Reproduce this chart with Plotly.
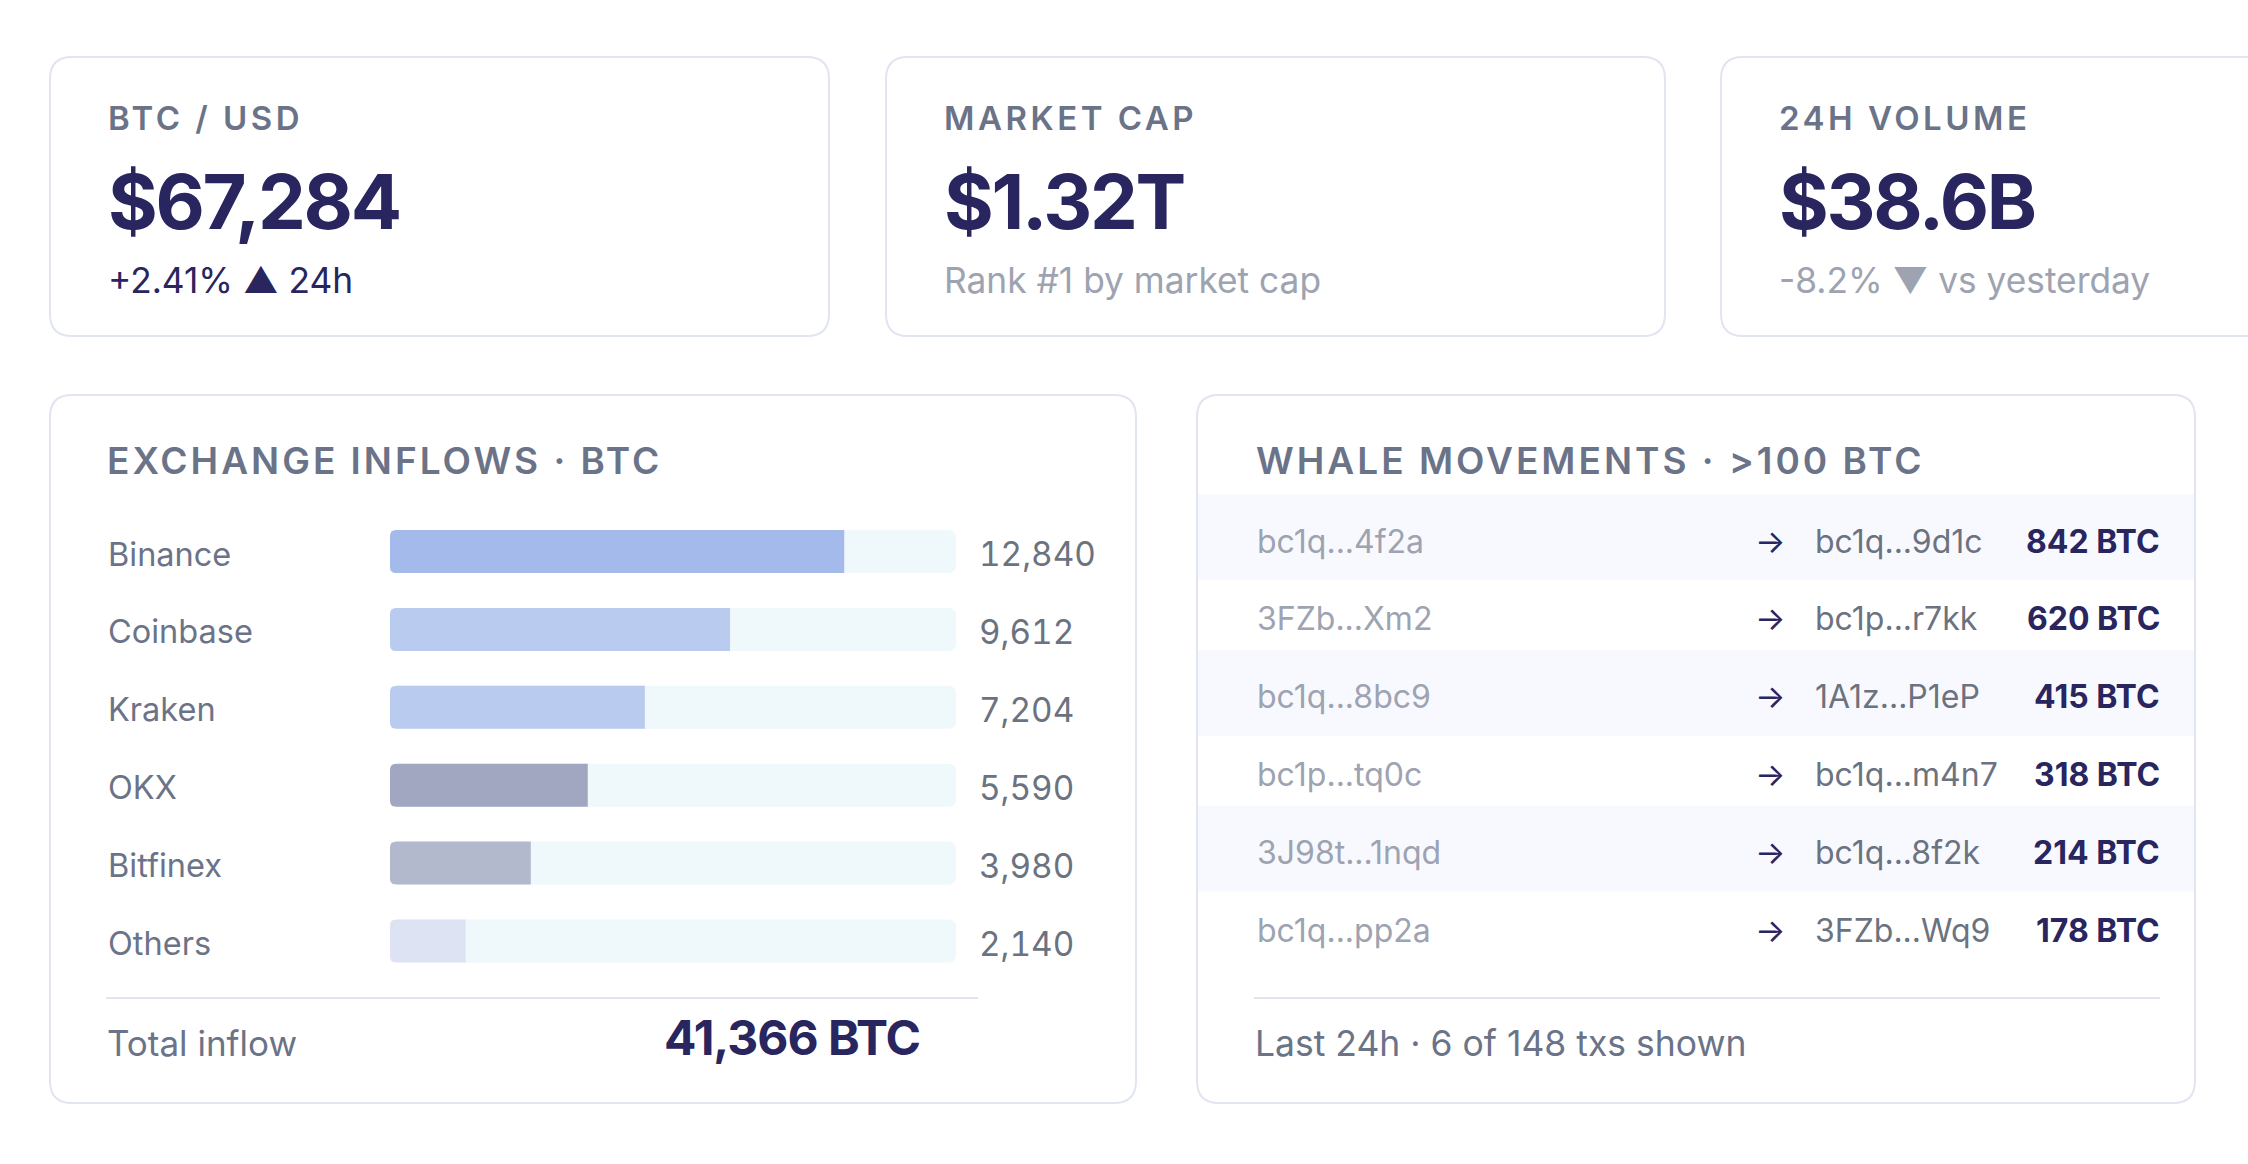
import plotly.graph_objects as go

W, H = 2248, 1164

# ---------------- data ----------------
kpi_labels = ["BTC / USD", "MARKET CAP", "24H VOLUME"]
kpi_values = ["$67,284", "$1.32T", "$38.6B"]
kpi_notes = ["+2.41% ▲ 24h", "Rank #1 by market cap", "-8.2% ▼ vs yesterday"]

exchanges = ["Binance", "Coinbase", "Kraken", "OKX", "Bitfinex", "Others"]
inflows_btc = [12840, 9612, 7204, 5590, 3980, 2140]
inflow_scale_max = 16000

whale_from = ["bc1q...4f2a", "3FZb...Xm2", "bc1q...8bc9", "bc1p...tq0c", "3J98t...1nqd", "bc1q...pp2a"]
whale_to = ["bc1q...9d1c", "bc1p...r7kk", "1A1z...P1eP", "bc1q...m4n7", "bc1q...8f2k", "3FZb...Wq9"]
whale_btc = [842, 620, 415, 318, 214, 178]
whale_total_txs = 148

# ---------------- styles ----------------
NAVY = "#28255f"
SLATE = "#6b7388"
GRAY = "#6b7280"
LIGHT = "#9da3b1"
BORDER = "#e1e5f2"
TRACK = "#eff8fb"
STRIPE = "#f8f9fe"
DIVIDER = "#e0e5f0"
FONT = "Inter, 'Noto Sans', sans-serif"
bar_colors = ["#a3baea", "#b9cbee", "#b9cbee", "#a1a6c1", "#b3b9cd", "#dee3f3"]
note_colors = [NAVY, LIGHT, LIGHT]


def px(x):
    return x / W


def py(y):
    return 1 - y / H


shapes = []
annotations = []


def rrect(x0, y0, x1, y1, r, line=BORDER, fill="white", width=2):
    X0, X1, Y0, Y1 = px(x0), px(x1), py(y0), py(y1)
    rx, ry = r / W, r / H
    path = (f"M {X0+rx},{Y0} L {X1-rx},{Y0} Q {X1},{Y0} {X1},{Y0-ry} "
            f"L {X1},{Y1+ry} Q {X1},{Y1} {X1-rx},{Y1} L {X0+rx},{Y1} "
            f"Q {X0},{Y1} {X0},{Y1+ry} L {X0},{Y0-ry} Q {X0},{Y0} {X0+rx},{Y0} Z")
    shapes.append(dict(type="path", path=path, xref="paper", yref="paper",
                       line=dict(color=line, width=width), fillcolor=fill, layer="below"))


def hline(x0, x1, y, color=DIVIDER, width=2):
    shapes.append(dict(type="line", xref="paper", yref="paper", x0=px(x0), x1=px(x1),
                       y0=py(y), y1=py(y), line=dict(color=color, width=width), layer="below"))


def txt(s, x, y, size, color, weight=400, xanchor="left", yref="paper", ls=None,
        tnum=False, yshift=0):
    styles = []
    if ls is not None:
        styles.append(f"letter-spacing:{ls}px")
    if tnum:
        styles.append("font-variant-numeric:tabular-nums")
    if styles:
        s = f"<span style='{';'.join(styles)}'>{s}</span>"
    annotations.append(dict(
        text=s, x=px(x), xref="paper", y=py(y) if yref == "paper" else y, yref=yref,
        xanchor=xanchor, yanchor="middle", showarrow=False, borderpad=0, yshift=yshift,
        font=dict(family=FONT, size=size, color=color, weight=weight)))


# ---------------- KPI cards ----------------
card_w = 779
for i, left in enumerate([50, 886, 1721]):
    rrect(left, 57, left + card_w, 336, 22)
    tx = left + 57
    txt(kpi_labels[i], tx, 118, 33, SLATE, 600, ls=3.5)
    txt(kpi_values[i], tx, 201, 76, NAVY, 700, ls=-2.3)
    txt(kpi_notes[i], tx, 280, 35.3, note_colors[i], 400)

# ---------------- panels ----------------
rrect(50, 395, 1136, 1103, 22)
rrect(1197, 395, 2195, 1103, 22)

txt("EXCHANGE INFLOWS · BTC", 106, 460.5, 37, SLATE, 600, ls=3)
txt("WHALE MOVEMENTS · >100 BTC", 1255, 460.5, 37, SLATE, 600, ls=3)

# bar area geometry
n = len(exchanges)
pitch = 77.9
bar_c0 = 551.5
bar_top = bar_c0 - pitch / 2
bar_bot = bar_c0 + (n - 0.5) * pitch
bar_width = 0.552

for name, v in zip(exchanges, inflows_btc):
    txt(name, 107, name, 32.5, SLATE, 400, yref="y", yshift=-2.5)
    txt(f"{v:,}", 978, name, 33.3, GRAY, 400, yref="y", tnum=True, yshift=-2.5)

# round the left end of each bar track (white corner masks at value 0)
half = bar_width * pitch / 2
r = 6
for i in range(n):
    p = (f"M -1,{half+1} L {r},{half+1} L {r},{half} Q 0,{half} 0,{half-r} L -1,{half-r} Z "
         f"M -1,{-half-1} L {r},{-half-1} L {r},{-half} Q 0,{-half} 0,{-half+r} L -1,{-half+r} Z")
    shapes.append(dict(type="path", xref="x", yref="y", xsizemode="pixel", ysizemode="pixel",
                       xanchor=0, yanchor=i, path=p, fillcolor="white", line_width=0,
                       layer="above"))

hline(106, 978, 998)
txt("Total inflow", 106, 1043, 35, SLATE, 400)
txt(f"{sum(inflows_btc):,} BTC", 921, 1037, 48, NAVY, 700, xanchor="right", ls=-1)

# whale rows geometry
m = len(whale_btc)
wh_c0 = 541
lo, hi = -0.8, m - 0.2
wh_top = wh_c0 + lo * pitch
wh_bot = wh_c0 + hi * pitch

for i in range(m):
    if i % 2 == 0:
        shapes.append(dict(type="rect", xref="paper", yref="y2", x0=px(1198), x1=px(2194),
                           y0=i - 0.6, y1=i + 0.5, fillcolor=STRIPE, line_width=0, layer="below"))
    txt(whale_from[i], 1256, i, 32, LIGHT, 400, yref="y2")
    txt("→", 1754, i, 32, NAVY, 400, yref="y2")
    txt(whale_to[i], 1814, i, 32, GRAY, 400, yref="y2")
    txt(f"{whale_btc[i]} BTC", 2161, i, 32, NAVY, 700, xanchor="right", yref="y2")

hline(1254, 2160, 998)
txt(f"Last 24h · {m} of {whale_total_txs} txs shown", 1254, 1043, 35.5, SLATE, 400)

# ---------------- figure ----------------
fig = go.Figure()
fig.add_trace(go.Bar(
    y=exchanges, x=[inflow_scale_max] * n, orientation="h", width=bar_width,
    marker=dict(color=TRACK, cornerradius=7, line_width=0), hoverinfo="skip", showlegend=False))
fig.add_trace(go.Bar(
    y=exchanges, x=inflows_btc, orientation="h", width=bar_width,
    marker=dict(color=bar_colors, cornerradius=7, line_width=0), hoverinfo="skip", showlegend=False))

fig.update_layout(
    width=W, height=H, autosize=False,
    margin=dict(l=0, r=0, t=0, b=0),
    paper_bgcolor="white", plot_bgcolor="rgba(0,0,0,0)",
    barmode="overlay", showlegend=False,
    xaxis=dict(domain=[px(390), px(956)], range=[0, inflow_scale_max], visible=False,
               fixedrange=True, anchor="y"),
    yaxis=dict(domain=[py(bar_bot), py(bar_top)], type="category", categoryorder="array",
               categoryarray=exchanges, range=[n - 0.5, -0.5], visible=False,
               fixedrange=True, anchor="x"),
    xaxis2=dict(domain=[0, 1], range=[0, W], visible=False, fixedrange=True, anchor="y2"),
    yaxis2=dict(domain=[py(wh_bot), py(wh_top)], range=[hi, lo], visible=False,
                fixedrange=True, anchor="x2"),
    shapes=shapes, annotations=annotations,
)

fig.write_html("out.html", config={"displayModeBar": False})
